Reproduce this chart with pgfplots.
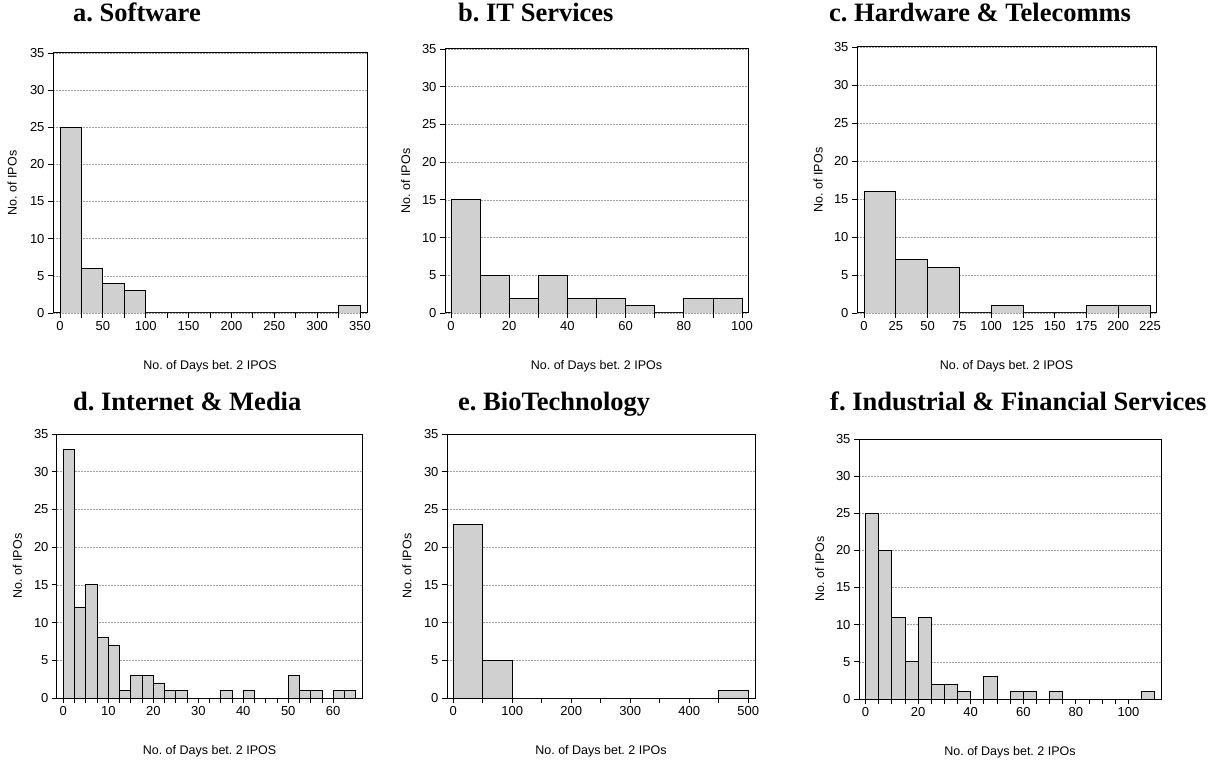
\documentclass[border=0pt]{standalone}
\usepackage{pgfplots}
\pgfplotsset{compat=1.18}
\usepackage{fontspec}
\setmainfont{Liberation Sans}
\newfontfamily\titlefont{Liberation Serif}
\definecolor{barfill}{RGB}{208,208,208}
\frenchspacing

\newcommand{\lblfont}{\fontsize{12.5}{14}\selectfont}
\newcommand{\tckfont}{\fontsize{13}{15}\selectfont}
\newcommand{\ttlfont}{\titlefont\bfseries\fontsize{26.5}{30}\selectfont}

\pgfplotsset{
  hist/.style={
    scale only axis,
    anchor=south west,
    ymin=0, ymax=35,
    ytick={0,5,...,35},
    ymajorgrids=true,
    grid style={dash pattern=on 2pt off 1pt, gray!75, line width=0.5pt},
    tick pos=left,
    tick align=outside,
    major tick length=5pt,
    minor tick length=5pt,
    every tick/.style={black, line width=0.8pt},
    axis line style={line width=1pt},
    /pgf/number format/assume math mode=true,
    ticklabel style={font=\tckfont},
    label style={font=\lblfont},
    xlabel style={at={(axis description cs:0.5,0)}, anchor=north, yshift=-44pt},
    ylabel style={at={(axis description cs:-0.13,0.5)}, anchor=center},
    ylabel={No. of IPOs},
    scaled ticks=false,
  },
  bars/.style={ybar interval, fill=barfill, draw=black, line width=0.8pt},
}

\begin{document}
\begin{tikzpicture}[x=1pt,y=1pt]
\useasboundingbox (0,0) rectangle (1213,761);

% a. Software
\begin{axis}[hist, at={(53pt,448pt)}, width=314pt, height=260pt,
  xmin=-8.2, xmax=358.2, xtick={0,50,...,350}, minor x tick num=1,
  xlabel={No. of Days bet. 2 IPOS}]
\addplot[bars] coordinates {
  (0,25)(25,6)(50,4)(75,3)(100,0)(125,0)(150,0)(175,0)(200,0)
  (225,0)(250,0)(275,0)(300,0)(325,1)(350,1)};
\end{axis}

% b. IT Services
\begin{axis}[hist, at={(445pt,448pt)}, width=303pt, height=264pt,
  xmin=-2.06, xmax=102.06, xtick={0,20,...,100}, minor x tick num=1,
  xlabel={No. of Days bet. 2 IPOs}]
\addplot[bars] coordinates {
  (0,15)(10,5)(20,2)(30,5)(40,2)(50,2)(60,1)(70,0)(80,2)(90,2)(100,2)};
\end{axis}

% c. Hardware & Telecomms
\begin{axis}[hist, at={(857pt,448pt)}, width=299pt, height=266pt,
  xmin=-5.5, xmax=229.7, xtick={0,25,...,225},
  xlabel={No. of Days bet. 2 IPOS}]
\addplot[bars] coordinates {
  (0,16)(25,7)(50,6)(75,0)(100,1)(125,0)(150,0)(175,1)(200,1)(225,1)};
\end{axis}

% d. Internet & Media
\begin{axis}[hist, at={(57pt,63pt)}, width=305pt, height=264pt,
  xmin=-1.4, xmax=66.4, xtick={0,10,...,60}, minor x tick num=3,
  xlabel={No. of Days bet. 2 IPOS}]
\addplot[bars] coordinates {
  (0,33)(2.5,12)(5,15)(7.5,8)(10,7)(12.5,1)(15,3)(17.5,3)(20,2)(22.5,1)
  (25,1)(27.5,0)(30,0)(32.5,0)(35,1)(37.5,0)(40,1)(42.5,0)(45,0)(47.5,0)
  (50,3)(52.5,1)(55,1)(57.5,0)(60,1)(62.5,1)(65,1)};
\end{axis}

% e. BioTechnology
\begin{axis}[hist, at={(447pt,63pt)}, width=308pt, height=264pt,
  xmin=-10.7, xmax=511.4, xtick={0,100,...,500}, minor x tick num=1,
  xlabel={No. of Days bet. 2 IPOs}]
\addplot[bars] coordinates {
  (0,23)(50,5)(100,0)(150,0)(200,0)(250,0)(300,0)(350,0)(400,0)(450,1)(500,1)};
\end{axis}

% f. Industrial & Financial Services
\begin{axis}[hist, at={(859pt,62pt)}, width=302pt, height=260pt,
  xmin=-2.5, xmax=112.4, xtick={0,20,...,100}, minor x tick num=3,
  xlabel={No. of Days bet. 2 IPOs}]
\addplot[bars] coordinates {
  (0,25)(5,20)(10,11)(15,5)(20,11)(25,2)(30,2)(35,1)(40,0)(45,3)(50,0)
  (55,1)(60,1)(65,0)(70,1)(75,0)(80,0)(85,0)(90,0)(95,0)(100,0)(105,1)(110,1)};
\end{axis}

% panel titles
\node[anchor=base west, inner sep=0pt, font=\ttlfont] at (73,739.3) {a. Software};
\node[anchor=base west, inner sep=0pt, font=\ttlfont] at (458,739.3) {b. IT Services};
\node[anchor=base west, inner sep=0pt, font=\ttlfont] at (829,739.3) {c. Hardware \& Telecomms};
\node[anchor=base west, inner sep=0pt, font=\ttlfont] at (73,350.3) {d. Internet \& Media};
\node[anchor=base west, inner sep=0pt, font=\ttlfont] at (458,350.3) {e. BioTechnology};
\node[anchor=base west, inner sep=0pt, font=\ttlfont] at (830,350.3) {f. Industrial \& Financial Services};
\end{tikzpicture}
\end{document}
